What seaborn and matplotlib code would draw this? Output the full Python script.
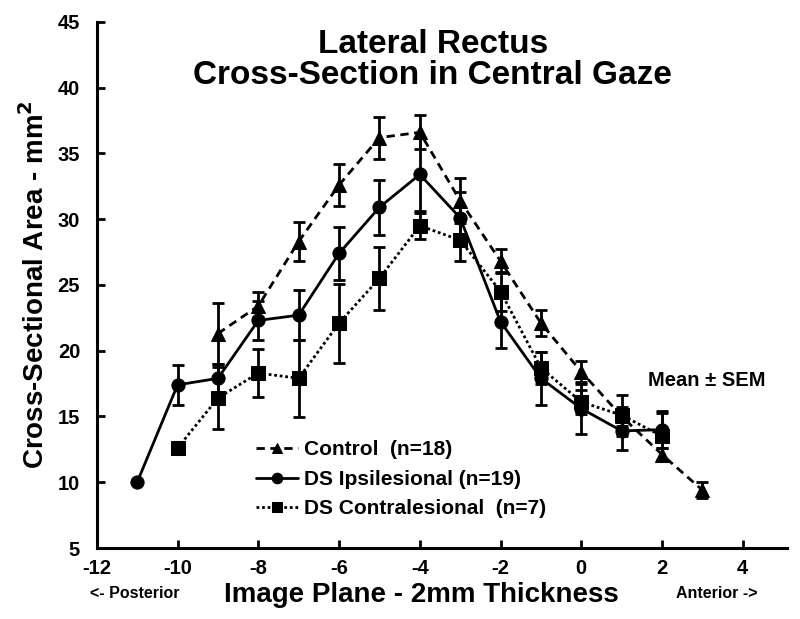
import matplotlib
matplotlib.use("Agg")
import matplotlib.pyplot as plt
import seaborn as sns
import pandas as pd

# Data (mean ± SEM)
ctrl_x = [-9, -8, -7, -6, -5, -4, -3, -2, -1, 0, 1, 2, 3]
ctrl_y = [21.3, 23.4, 28.3, 32.6, 36.2, 36.6, 31.4, 26.8, 22.1, 18.4, 15.0, 12.1, 9.4]
ctrl_e = [2.3, 1.1, 1.5, 1.6, 1.6, 1.3, 1.7, 0.9, 1.0, 0.8, 0.7, 0.5, 0.6]

ips_x = [-11, -10, -9, -8, -7, -6, -5, -4, -3, -2, -1, 0, 1, 2]
ips_y = [10.0, 17.4, 17.9, 22.3, 22.7, 27.4, 30.9, 33.4, 30.1, 22.2, 17.9, 15.6, 13.9, 14.0]
ips_e = [0, 1.55, 1.1, 1.5, 1.9, 2.0, 2.1, 2.8, 2.0, 2.0, 2.0, 1.9, 1.45, 1.4]

con_x = [-10, -9, -8, -7, -6, -5, -4, -3, -2, -1, 0, 1, 2]
con_y = [12.6, 16.4, 18.3, 17.9, 22.1, 25.5, 29.5, 28.4, 24.5, 18.7, 16.1, 15.1, 13.5]
con_e = [0, 2.35, 1.85, 2.95, 3.0, 2.4, 1.0, 1.6, 1.5, 1.2, 0.9, 1.55, 1.8]

labels = ["Control  (n=18)", "DS Ipsilesional (n=19)", "DS Contralesional  (n=7)"]
x_ticks = [-12, -10, -8, -6, -4, -2, 0, 2, 4]
y_ticks = [5, 10, 15, 20, 25, 30, 35, 40, 45]

sns.set_theme(style="ticks")
plt.rcParams['font.family'] = ['Liberation Sans', 'DejaVu Sans']
plt.rcParams['font.weight'] = 'bold'
plt.rcParams['axes.unicode_minus'] = False
for k in ['text.color', 'axes.labelcolor', 'xtick.color', 'ytick.color', 'axes.edgecolor']:
    plt.rcParams[k] = 'black'

fig = plt.figure(figsize=(8, 6.19), dpi=100)
ax = fig.add_axes([0.121, 0.1147, 0.863, 0.85])

series = [
    (ctrl_x, ctrl_y, ctrl_e, labels[0], (0, (3, 2)), "^"),
    (ips_x, ips_y, ips_e, labels[1], "-", "o"),
    (con_x, con_y, con_e, labels[2], (0, (1, 1)), "s"),
]
for xs, ys, es, lab, ls, mk in series:
    df = pd.DataFrame({"x": xs, "y": ys})
    sns.lineplot(data=df, x="x", y="y", ax=ax, color="black", linestyle=ls,
                 linewidth=2, marker=mk, markersize=9.5, markeredgecolor="black",
                 label=lab, legend=False)
    xe = [x for x, e in zip(xs, es) if e > 0]
    ye = [y for y, e in zip(ys, es) if e > 0]
    ee = [e for e in es if e > 0]
    ax.errorbar(xe, ye, yerr=ee, fmt="none", ecolor="black", elinewidth=2,
                capsize=4, capthick=2)

ax.set_xlim(-12, 5.1)
ax.set_ylim(5, 45)
ax.set_xticks(x_ticks)
ax.set_yticks(y_ticks)
ax.tick_params(direction="in", length=6, width=2, labelsize=14.5, colors="black")
ax.tick_params(axis="x", pad=8)
ax.tick_params(axis="y", pad=12)
for t in ax.get_xticklabels() + ax.get_yticklabels():
    t.set_fontweight("bold")
for s in ["top", "right"]:
    ax.spines[s].set_visible(False)
for s in ["left", "bottom"]:
    ax.spines[s].set_linewidth(2.2)
    ax.spines[s].set_color("black")

ax.set_xlabel("Image Plane - 2mm Thickness", fontsize=20, fontweight="bold")
ax.xaxis.set_label_coords(0.47, -0.064)
ax.set_ylabel("Cross-Sectional Area - mm$^\\mathbf{2}$", fontsize=20, fontweight="bold")
ax.yaxis.set_label_coords(-0.068, 0.5)

fig.text(0.541, 0.903, "Lateral Rectus\nCross-Section in Central Gaze", ha="center", va="center",
         fontsize=24, fontweight="bold", linespacing=1.0)
fig.text(0.884, 0.386, "Mean \u00b1 SEM", ha="center", va="center", fontsize=14.5, fontweight="bold")
fig.text(0.168, 0.042, "<- Posterior", ha="center", va="center", fontsize=11.5, fontweight="bold")
fig.text(0.896, 0.042, "Anterior ->", ha="center", va="center", fontsize=11.5, fontweight="bold")

ax.legend(loc="upper left", bbox_to_anchor=(0.31, 0.302), bbox_transform=fig.transFigure,
          frameon=False, handlelength=2.0, handletextpad=0.3, labelspacing=0.5,
          prop={"size": 15, "weight": "bold"}, borderaxespad=0, markerscale=0.8)

fig.savefig("out.png", dpi=100)
